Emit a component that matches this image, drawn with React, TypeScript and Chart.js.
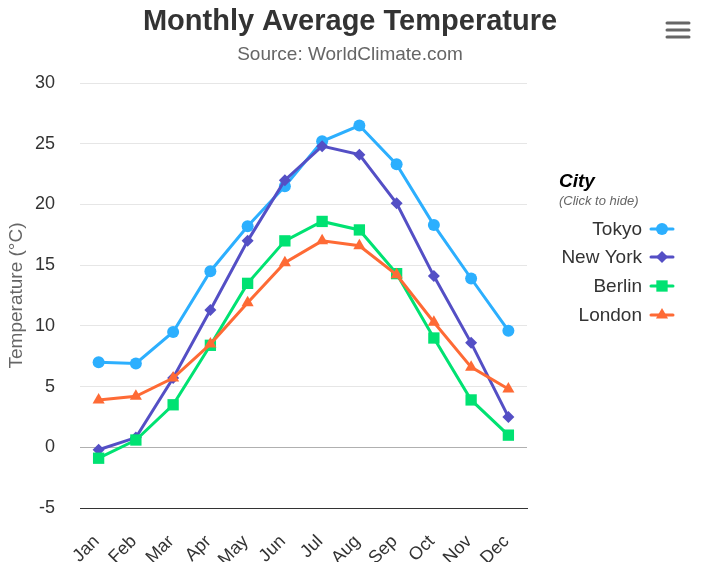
import React, { useEffect, useRef } from 'react';
import { Chart, registerables } from 'chart.js';
import { drawPoint } from 'chart.js/helpers';

Chart.register(...registerables);

const months = ['Jan', 'Feb', 'Mar', 'Apr', 'May', 'Jun', 'Jul', 'Aug', 'Sep', 'Oct', 'Nov', 'Dec'];
const tokyo = [7.0, 6.9, 9.5, 14.5, 18.2, 21.5, 25.2, 26.5, 23.3, 18.3, 13.9, 9.6];
const newYork = [-0.2, 0.8, 5.7, 11.3, 17.0, 22.0, 24.8, 24.1, 20.1, 14.1, 8.6, 2.5];
const berlin = [-0.9, 0.6, 3.5, 8.4, 13.5, 17.0, 18.6, 17.9, 14.3, 9.0, 3.9, 1.0];
const london = [3.9, 4.2, 5.7, 8.5, 11.9, 15.2, 17.0, 16.6, 14.2, 10.3, 6.6, 4.8];
const seriesNames = ['Tokyo', 'New York', 'Berlin', 'London'];
const seriesValues = [tokyo, newYork, berlin, london];
const seriesColors = ['#2caffe', '#544fc5', '#00e272', '#fe6a35'];
const pointStyles = ['circle', 'rectRot', 'rect', 'triangle'];
const pointRadii = [6, 6, 8, 7];
const yMin = -5;
const yMax = 30;
const yStep = 5;

const FONT = '"Liberation Sans", Arial, Helvetica, sans-serif';

export default function App() {
  const canvasRef = useRef<HTMLCanvasElement | null>(null);

  useEffect(() => {
    document.body.style.margin = '0';
    const canvas = canvasRef.current;
    if (!canvas) return;

    const decorPlugin = {
      id: 'decor',
      afterDraw(chart: any) {
        const ctx = chart.ctx as CanvasRenderingContext2D;
        ctx.save();
        // Title
        ctx.textAlign = 'center';
        ctx.textBaseline = 'middle';
        ctx.fillStyle = '#333333';
        ctx.font = `bold 29px ${FONT}`;
        ctx.fillText('Monthly Average Temperature', 350, 22);
        ctx.fillStyle = '#666666';
        ctx.font = `19px ${FONT}`;
        ctx.fillText('Source: WorldClimate.com', 350, 55);

        // Hamburger
        ctx.strokeStyle = '#666666';
        ctx.lineWidth = 3;
        ctx.lineCap = 'round';
        [23, 30, 37].forEach((yy) => {
          ctx.beginPath();
          ctx.moveTo(667, yy);
          ctx.lineTo(689, yy);
          ctx.stroke();
        });

        // Legend
        ctx.textAlign = 'left';
        ctx.fillStyle = '#000000';
        ctx.font = `italic bold 19px ${FONT}`;
        ctx.fillText('City', 559, 182);
        ctx.fillStyle = '#666666';
        ctx.font = `italic 13px ${FONT}`;
        ctx.fillText('(Click to hide)', 559, 201);

        const rows = [230, 258, 287, 316];
        seriesNames.forEach((name, i) => {
          const y = rows[i];
          ctx.textAlign = 'right';
          ctx.fillStyle = '#333333';
          ctx.font = `19px ${FONT}`;
          ctx.fillText(name, 642, y);
          ctx.strokeStyle = seriesColors[i];
          ctx.lineWidth = 3;
          ctx.lineCap = 'round';
          ctx.beginPath();
          ctx.moveTo(651, y - 1);
          ctx.lineTo(673, y - 1);
          ctx.stroke();
          ctx.fillStyle = seriesColors[i];
          ctx.strokeStyle = seriesColors[i];
          drawPoint(ctx, { pointStyle: pointStyles[i] as any, radius: pointRadii[i], rotation: 0, borderWidth: 0 }, 662, y - 1);
        });
        ctx.restore();
      },
    };

    const chart = new Chart(canvas, {
      type: 'line',
      data: {
        labels: months,
        datasets: seriesNames.map((name, i) => ({
          label: name,
          data: seriesValues[i],
          borderColor: seriesColors[i],
          backgroundColor: seriesColors[i],
          borderWidth: 3,
          pointStyle: pointStyles[i] as any,
          pointRadius: pointRadii[i],
          pointBorderWidth: 0,
          pointHoverRadius: pointRadii[i],
          tension: 0,
          order: 3 - i,
        })),
      },
      options: {
        animation: false,
        responsive: false,
        devicePixelRatio: 1,
        layout: { padding: { top: 83, right: 179, left: 0, bottom: 0 } },
        plugins: {
          legend: { display: false },
          title: { display: false },
          tooltip: { enabled: false },
        },
        scales: {
          x: {
            type: 'category',
            offset: true,
            grid: { display: false, drawTicks: false },
            border: { display: true, color: '#333333', width: 1 },
            ticks: {
              color: '#333333',
              font: { family: FONT, size: 18 },
              minRotation: 45,
              maxRotation: 45,
              padding: 23,
              labelOffset: -2,
              autoSkip: false,
            },
            afterFit: (scale: any) => {
              scale.height = 54;
            },
          },
          y: {
            min: yMin,
            max: yMax,
            grid: {
              color: (c: any) => (c.tick && c.tick.value === 0 ? '#b0b0b0' : '#e6e6e6'),
              drawTicks: false,
              lineWidth: 1,
            },
            border: { display: false },
            ticks: {
              stepSize: yStep,
              color: '#333333',
              font: { family: FONT, size: 18 },
              padding: 25,
            },
            title: {
              display: true,
              text: 'Temperature (°C)',
              color: '#666666',
              font: { family: FONT, size: 19 },
              padding: { top: 5, bottom: 0 },
            },
            afterFit: (scale: any) => {
              scale.width = 80;
            },
          },
        },
      },
      plugins: [decorPlugin],
    });

    return () => {
      chart.destroy();
    };
  }, []);

  return (
    <div style={{ width: 706, height: 562 }}>
      <canvas ref={canvasRef} width={706} height={562} style={{ display: 'block', width: 706, height: 562 }} />
    </div>
  );
}
